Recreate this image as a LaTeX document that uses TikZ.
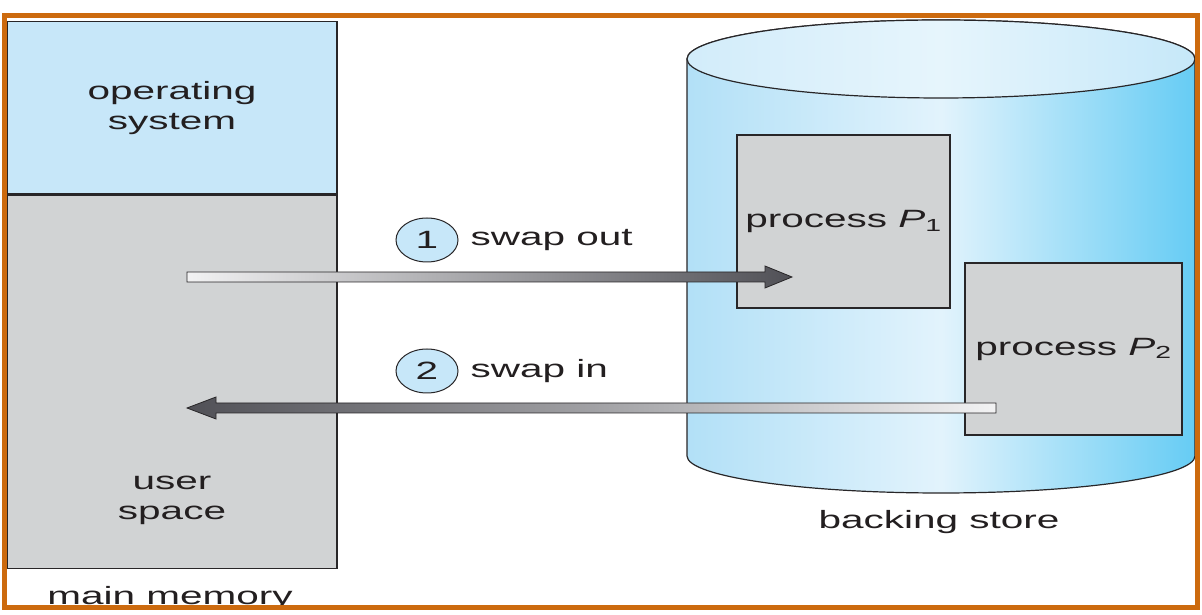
\documentclass[tikz,border=0pt]{standalone}
\usepackage{fontspec}
\setmainfont{Liberation Sans}[FakeStretch=1.62]
\usetikzlibrary{shapes.geometric, positioning, calc}
\definecolor{osblue}{RGB}{199,231,249}
\definecolor{memgray}{RGB}{209,211,212}
\definecolor{edgegray}{RGB}{40,38,40}
\definecolor{textgray}{RGB}{35,31,32}
\definecolor{cylleft}{RGB}{178,224,247}
\definecolor{cylmid}{RGB}{226,243,252}
\definecolor{cylright}{RGB}{102,204,244}
\definecolor{topleft}{RGB}{210,236,250}
\definecolor{topmid}{RGB}{230,245,252}
\definecolor{topright}{RGB}{198,232,249}
\definecolor{barlight}{RGB}{242,242,243}
\definecolor{bardark}{RGB}{80,80,86}
\definecolor{framecol}{RGB}{204,106,14}
\tikzstyle{membox} = [rectangle, draw=edgegray, line width=1.2pt, inner sep=0pt]
\tikzstyle{lbl} = [font=\fontsize{25}{30}\selectfont, text=textgray, inner sep=0pt, align=center]
\tikzstyle{stepmark} = [ellipse, draw=edgegray, line width=1pt, fill=osblue, minimum width=62pt, minimum height=44pt, inner sep=0pt, font=\fontsize{25}{30}\selectfont, text=textgray]
\tikzstyle{bararrow} = [draw=edgegray, line width=0.8pt]
\begin{document}
\begin{tikzpicture}[x=1pt, y=1pt]
                \useasboundingbox (0,0) rectangle (1202,615);
                % main memory
                \node (os) [membox, lbl, fill=osblue, minimum width=330pt, minimum height=172.5pt] at (172,507.25) {operating\\system};
                \node (user) [membox, fill=memgray, minimum width=330pt, minimum height=373pt, below=0pt of os] {};
                \node (userlbl) [lbl, above=44pt of user.south] {user\\space};
                \node (mainlbl) [lbl, anchor=base] at (170,10) {main memory};

                % backing store
                \shade[draw=edgegray, line width=1.2pt, left color=cylleft, right color=cylright, middle color=cylmid]
                    (687,556) -- (687,159) arc[start angle=180, end angle=360, x radius=254, y radius=37]
                    -- (1195,556) arc[start angle=0, end angle=180, x radius=254, y radius=39] -- cycle;
                \shade[draw=edgegray, line width=1.2pt, left color=topleft, right color=topright, middle color=topmid]
                    (941,556) ellipse [x radius=254, y radius=39];
                \node (p1) [membox, lbl, fill=memgray, minimum width=213pt, minimum height=173pt] at (843.5,393.5) {process \textit{P}\textsubscript{1}};
                \node (p2) [membox, lbl, fill=memgray, minimum width=217pt, minimum height=172pt] at (1073.5,266) {process \textit{P}\textsubscript{2}};
                \node (backlbl) [lbl, anchor=base] at (939,86) {backing store};

                % steps
                \node (one) [stepmark] at (427,375) {1};
                \node (outlbl) [lbl, right=12pt of one] {swap out};
                \node (two) [stepmark] at (427,244) {2};
                \node (inlbl) [lbl, right=12pt of two] {swap in};

                \coordinate (outtail) at (187,338);
                \coordinate (outtip) at (792,338);
                \coordinate (intail) at (996,207);
                \coordinate (intip) at (187,207);
                \shade[bararrow, left color=barlight, right color=bardark]
                    ($(outtail)+(0,5)$) -- ($(outtip)+(-27,5)$) -- ($(outtip)+(-27,11)$) -- (outtip)
                    -- ($(outtip)+(-27,-11)$) -- ($(outtip)+(-27,-5)$) -- ($(outtail)+(0,-5)$) -- cycle;
                \shade[bararrow, left color=bardark, right color=barlight]
                    ($(intail)+(0,5)$) -- ($(intip)+(29,5)$) -- ($(intip)+(29,11)$) -- (intip)
                    -- ($(intip)+(29,-11)$) -- ($(intip)+(29,-5)$) -- ($(intail)+(0,-5)$) -- cycle;

                % frame
                \draw[framecol, line width=5pt] (4.5,7.5) rectangle (1197.5,599.5);
            \end{tikzpicture}
\end{document}
